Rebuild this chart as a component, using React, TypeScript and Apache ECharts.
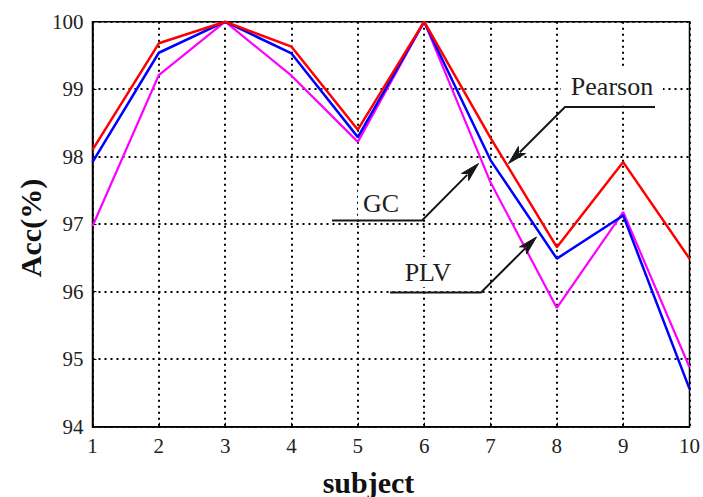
import React, { useEffect, useRef } from "react";
import * as echarts from "echarts";

const subjects = [1, 2, 3, 4, 5, 6, 7, 8, 9, 10];
const pearson = [98.1, 99.68, 100, 99.63, 98.4, 100, 98.28, 96.66, 97.92, 96.49];
const gc = [97.92, 99.54, 100, 99.53, 98.29, 100, 97.95, 96.49, 97.13, 94.56];
const plv = [96.97, 99.21, 100, 99.2, 98.22, 100, 97.62, 95.76, 97.18, 94.88];

const FONT = '"Liberation Serif", "Times New Roman", serif';
const INK = "#161616";

function arrowHead(tip: number[], from: number[], len = 19, half = 5) {
  const dx = tip[0] - from[0];
  const dy = tip[1] - from[1];
  const d = Math.sqrt(dx * dx + dy * dy);
  const ux = dx / d;
  const uy = dy / d;
  const bx = tip[0] - ux * len;
  const by = tip[1] - uy * len;
  const mx = tip[0] - ux * len * 0.75;
  const my = tip[1] - uy * len * 0.75;
  return [
    tip,
    [bx - uy * half, by + ux * half],
    [mx, my],
    [bx + uy * half, by - ux * half],
  ];
}

function callout(label: string, cx: number, cy: number, boxW: number, boxH: number, pts: number[][]) {
  const tip = pts[pts.length - 1];
  const prev = pts[pts.length - 2];
  return [
    {
      type: "rect",
      z: 100,
      shape: { x: cx - boxW / 2, y: cy - boxH / 2, width: boxW, height: boxH },
      style: { fill: "#fff" },
    },
    {
      type: "text",
      z: 101,
      x: cx,
      y: cy,
      style: {
        text: label,
        font: `26px ${FONT}`,
        fill: "#1e1e1e",
        align: "center",
        verticalAlign: "middle",
        textAlign: "center",
        textVerticalAlign: "middle",
      },
    },
    {
      type: "polyline",
      z: 102,
      shape: { points: pts.slice(0, -1).concat([[tip[0] - (tip[0] - prev[0]) * 0.2, tip[1] - (tip[1] - prev[1]) * 0.2]]) },
      style: { stroke: INK, lineWidth: 2, fill: null },
    },
    {
      type: "polygon",
      z: 103,
      shape: { points: arrowHead(tip, prev) },
      style: { fill: INK, stroke: INK, lineWidth: 1 },
    },
  ];
}

export default function App() {
  const ref = useRef<HTMLDivElement>(null);
  useEffect(() => {
    if (!ref.current) return;
    const chart = echarts.init(ref.current, undefined, { renderer: "svg" });
    const mk = (vals: number[]) => subjects.map((s, i) => [s, vals[i]]);
    chart.setOption({
      animation: false,
      backgroundColor: "#fff",
      grid: {
        left: 92.5,
        right: 11.3,
        top: 21.7,
        bottom: 70.3,
        show: true,
        borderColor: "#000",
        borderWidth: 1.5,
      },
      xAxis: {
        type: "value",
        min: 1,
        max: 10,
        interval: 1,
        axisLine: { show: true, lineStyle: { color: "#000", width: 1.5 } },
        axisTick: { show: true, inside: true, length: 4, lineStyle: { color: "#000" } },
        axisLabel: { fontFamily: FONT, fontSize: 21, color: "#222", margin: 9 },
        splitLine: { show: true, lineStyle: { type: [2, 4], width: 2, color: "#000" } },
      },
      yAxis: {
        type: "value",
        min: 94,
        max: 100,
        interval: 1,
        axisLine: { show: true, lineStyle: { color: "#000", width: 1.5 } },
        axisTick: { show: true, inside: true, length: 4, lineStyle: { color: "#000" } },
        axisLabel: { fontFamily: FONT, fontSize: 21, color: "#222", margin: 9 },
        splitLine: { show: true, lineStyle: { type: [2, 4], width: 2, color: "#000" } },
      },
      series: [
        { name: "PLV", type: "line", symbol: "none", data: mk(plv), lineStyle: { color: "#ff00ff", width: 2.2 }, z: 3 },
        { name: "GC", type: "line", symbol: "none", data: mk(gc), lineStyle: { color: "#0000ff", width: 2.5 }, z: 4 },
        { name: "Pearson", type: "line", symbol: "none", data: mk(pearson), lineStyle: { color: "#ff0000", width: 2.5 }, z: 5 },
      ],
      graphic: [
        ...callout("Pearson", 612, 86, 102, 38, [[655, 107], [565, 107], [508.5, 163.5]]),
        ...callout("GC", 381, 203, 46, 30, [[332, 220.5], [422, 220.5], [478.5, 163.5]]),
        ...callout("PLV", 428, 272, 56, 30, [[390, 292.5], [481, 292.5], [536.5, 237]]),
        {
          type: "text",
          z: 100,
          x: 368.5,
          y: 482,
          style: {
            text: "subject",
            font: `bold 30px ${FONT}`,
            fill: "#111",
            align: "center",
            verticalAlign: "middle",
            textAlign: "center",
            textVerticalAlign: "middle",
          },
        },
        {
          type: "text",
          z: 100,
          x: 30,
          y: 228,
          rotation: Math.PI / 2,
          style: {
            text: "Acc(%)",
            font: `bold 30px ${FONT}`,
            fill: "#111",
            align: "center",
            verticalAlign: "middle",
            textAlign: "center",
            textVerticalAlign: "middle",
          },
        },
      ],
    });
    return () => chart.dispose();
  }, []);
  return (
    <div
      ref={ref}
      style={{ position: "absolute", left: 0, top: 0, width: 703, height: 497, background: "#fff" }}
    />
  );
}
